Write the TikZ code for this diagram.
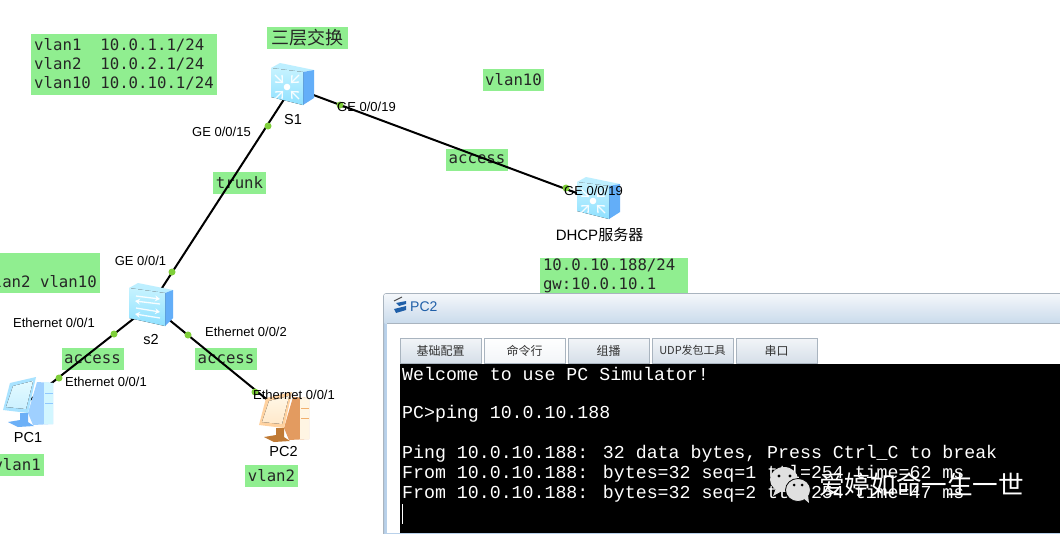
\documentclass[tikz,border=0pt]{standalone}
\usepackage{fontspec}
\usetikzlibrary{arrows.meta}
\setmainfont{Liberation Sans}
\newfontfamily\gmono{DejaVu Sans Mono}
\newfontfamily\cjk{Noto Sans CJK SC}
\newfontfamily\termfont{Liberation Mono}
\definecolor{lblgreen}{HTML}{90EE90}
\definecolor{portgreen}{HTML}{7FCF3A}
\definecolor{tabedge}{HTML}{A9B4BF}
\definecolor{titleblue}{HTML}{1F5FA8}
\definecolor{swfronta}{HTML}{C6F3FF}
\definecolor{swfrontb}{HTML}{8FE0FF}
\definecolor{swtop}{HTML}{BDEFFF}
\definecolor{swside}{HTML}{63AEF8}
\definecolor{pa}{HTML}{9FD0FF}
\definecolor{pb}{HTML}{D2F6FF}
\definecolor{pc}{HTML}{A9E3FF}
\definecolor{pd}{HTML}{E3FAFF}
\definecolor{pe}{HTML}{6CB0F7}
\definecolor{pf}{HTML}{8FC8FF}
\definecolor{qa}{HTML}{E39B60}
\definecolor{qb}{HTML}{FFF5E3}
\definecolor{qc}{HTML}{FFD2A0}
\definecolor{qd}{HTML}{FFF7E6}
\definecolor{qe}{HTML}{C07A35}
\definecolor{qf}{HTML}{F0B070}
\definecolor{wintop}{HTML}{F3F6FA}
\definecolor{winbot}{HTML}{CADBEC}
\definecolor{winband}{HTML}{B9D1EA}
\definecolor{tabtop}{HTML}{F2F5F8}
\definecolor{tabbot}{HTML}{D6DFE9}
\tikzset{
  greenbox/.style={fill=lblgreen,inner sep=0pt,font=\gmono\fontsize{15.7}{19}\selectfont,text=black!85},
  plainlbl/.style={inner sep=0pt,font=\fontsize{13}{15}\selectfont},
  devlbl/.style={inner sep=0pt,font=\fontsize{14.5}{16}\selectfont},
  link/.style={line width=2pt,black},
  portdot/.style={circle,fill=portgreen,inner sep=0pt,minimum size=7pt},
  devnode/.style={inner sep=0pt,minimum size=30pt},
  tabbox/.style={draw=tabedge,line width=.8pt,top color=tabtop,bottom color=tabbot,inner sep=0pt,
    minimum width=81pt,minimum height=25pt,font=\cjk\fontsize{12}{14}\selectfont,text=black!80},
  termline/.style={inner sep=0pt,anchor=west,text=white,font=\termfont\fontsize{18.25}{20}\selectfont},
  whitearrow/.style={white,line width=1.3pt,opacity=.9},
}
\newcommand{\lthreeicon}[2]{%
  \begin{scope}[shift={(#1,#2)}]
    \fill[swtop] (-21,-19) -- (-12,-24) -- (22,-17) -- (11,-15) -- cycle;
    \fill[swside] (11,-15) -- (22,-17) -- (22,11) -- (11,18) -- cycle;
    \fill[top color=swfronta,bottom color=swfrontb] (-21,-19) -- (11,-15) -- (11,18) -- (-21,10) -- cycle;
    \fill[white] (-5,0) circle (3.3);
    \foreach \a in {45,135,225,315}{
      \begin{scope}[shift={(-5,0)},rotate=\a]
        \draw[whitearrow] (17,0) -- (7,0);
        \draw[whitearrow] (12,-5) -- (6.5,0) -- (12,5);
      \end{scope}
    }
  \end{scope}%
}
\newcommand{\ltwoicon}[2]{%
  \begin{scope}[shift={(#1,#2)}]
    \fill[swtop] (-22,-17) -- (-13,-22) -- (22,-15) -- (14,-12) -- cycle;
    \fill[swside] (14,-12) -- (22,-15) -- (22,13) -- (14,21) -- cycle;
    \fill[top color=swfronta,bottom color=swfrontb] (-22,-17) -- (14,-12) -- (14,21) -- (-22,13) -- cycle;
    \draw[whitearrow,-{Stealth[length=5pt,width=6pt]}] (-15,-9) -- (9,-6);
    \draw[whitearrow,-{Stealth[length=5pt,width=6pt]}] (9,-1) -- (-16,-4);
    \draw[whitearrow,-{Stealth[length=5pt,width=6pt]}] (-15,3) -- (9,7);
    \draw[whitearrow,-{Stealth[length=5pt,width=6pt]}] (9,13) -- (-16,9);
  \end{scope}%
}
\newcommand{\pcicon}[8]{%
  \begin{scope}[shift={(#1,#2)}]
    \fill[#3] (7,-18) -- (23,-17) -- (23,24) -- (3,25) -- (-2,13) -- cycle;
    \fill[#4] (14,-18) -- (23,-17) -- (23,24) -- (14,24) -- cycle;
    \draw[#8,line width=1pt] (15,3) -- (23,3) (15,-7) -- (23,-7);
    \fill[#7] (-10,13) -- (-2,13) -- (-2,22) -- (4,26) -- (-12,27) -- (-22,22) -- (-10,20) -- cycle;
    \fill[#5] (-20,-17) -- (6,-23) -- (-2,13) -- (-27,10) -- cycle;
    \fill[top color=#6,bottom color=#5!40!#6] (-17,-14) -- (3,-19) -- (-4,9) -- (-24,7) -- cycle;
  \end{scope}%
}
\begin{document}
\begin{tikzpicture}[x=1pt,y=-1pt]
\useasboundingbox (0,0) rectangle (1060,533);
\fill[white] (0,0) rectangle (1060,533);
% green annotation boxes
\node[greenbox,minimum width=186pt,minimum height=61pt,align=left] (vlantable) at (124,64.5) {vlan1~~10.0.1.1/24\\vlan2~~10.0.2.1/24\\vlan10~10.0.10.1/24};
\node[greenbox,minimum width=81pt,minimum height=22pt,font=\cjk\fontsize{18}{20}\selectfont] (l3lbl) at (307.5,38) {三层交换};
\node[greenbox,minimum width=61pt,minimum height=22pt] (v10lbl) at (513.5,79.5) {vlan10};
\node[greenbox,minimum width=53pt,minimum height=22pt] (trunklbl) at (239.5,183) {trunk};
\node[greenbox,minimum width=62pt,minimum height=22pt] (accesstop) at (477,159.5) {access};
\node[greenbox,minimum width=148pt,minimum height=36pt,align=left,text width=142pt] (iplbl) at (614,276) {10.0.10.188/24\\gw:10.0.10.1};
\fill[lblgreen] (0,252.5) rectangle (100,293);
\node[inner sep=0pt,anchor=base east,font=\gmono\fontsize{15.7}{19}\selectfont,text=black!85] (trunkvlans) at (97,287) {lan2 vlan10};
\node[greenbox,minimum width=62pt,minimum height=22pt] (accessl) at (92.5,359) {access};
\node[greenbox,minimum width=62pt,minimum height=22pt] (accessr) at (226,359) {access};
\fill[lblgreen] (0,454) rectangle (44,476);
\node[inner sep=0pt,anchor=base east,font=\gmono\fontsize{15.7}{19}\selectfont,text=black!85] (pc1vlan) at (41,470) {vlan1};
\node[greenbox,minimum width=53pt,minimum height=22pt] (pc2vlan) at (271.5,476) {vlan2};
% device anchors
\node[devnode] (S1) at (292,87) {};
\node[devnode] (s2) at (151,305) {};
\node[devnode] (dhcp) at (598,201) {};
\node[devnode] (PC1) at (30,400) {};
\node[devnode] (PC2) at (286,415) {};
% links
\draw[link] (S1.center) -- (s2.center);
\draw[link] (S1.center) -- (dhcp.center);
\draw[link] (s2.center) -- (PC1.center);
\draw[link] (s2.center) -- (PC2.center);
% port dots
\node[portdot] (d1) at (268,126) {};
\node[portdot] (d2) at (340,105) {};
\node[portdot] (d3) at (172,272) {};
\node[portdot] (d4) at (114,334) {};
\node[portdot] (d5) at (188,335) {};
\node[portdot] (d6) at (59,378) {};
\node[portdot] (d7) at (255,392) {};
\node[portdot] (d8) at (566,188) {};
% icons
\lthreeicon{292}{87}
\lthreeicon{598}{201}
\ltwoicon{151}{305}
\pcicon{30}{400}{pa}{pb}{pc}{pd}{pe}{pf}
\pcicon{286}{415}{qa}{qb}{qc}{qd}{qe}{qf}
% device labels
\node[devlbl] (S1lbl) at (293,120) {S1};
\node[devlbl] (s2lbl) at (151,339.5) {s2};
\node[devlbl] (PC1lbl) at (28,438) {PC1};
\node[devlbl] (PC2lbl) at (283.5,451.5) {PC2};
\node[inner sep=0pt,font=\fontsize{15}{17}\selectfont] (dhcplbl) at (599.5,235) {DHCP{\cjk 服务器}};
% port labels
\node[plainlbl] (p1) at (221.5,132) {GE 0/0/15};
\node[plainlbl] (p2) at (366.5,107) {GE 0/0/19};
\node[plainlbl] (p3) at (140.5,261) {GE 0/0/1};
\node[plainlbl] (p4) at (54,323) {Ethernet 0/0/1};
\node[plainlbl] (p5) at (106,382) {Ethernet 0/0/1};
\node[plainlbl] (p6) at (246,332) {Ethernet 0/0/2};
\node[plainlbl] (p7) at (294,395) {Ethernet 0/0/1};
\node[plainlbl] (p8) at (593.5,191) {GE 0/0/19};
% PC2 window
\fill[fill=winband,draw=tabedge,line width=1pt,rounded corners=3pt] (383.5,293.5) -- (1065,293.5) -- (1065,540) -- (383.5,540) -- cycle;
\shade[top color=wintop,bottom color=winbot] (384.5,294.5) rectangle (1060,323);
\fill[white] (387,323) rectangle (1060,533);
\draw[tabedge,line width=.8pt] (387,323.5) -- (1060,323.5);
\node[tabbox] (tab1) at (440.5,350.5) {基础配置};
\node[tabbox,top color=white,bottom color=tabtop] (tab2) at (524.5,350.5) {命令行};
\node[tabbox] (tab3) at (608.5,350.5) {组播};
\node[tabbox] (tab4) at (692.5,350.5) {\fontsize{11}{13}\selectfont UDP发包工具};
\node[tabbox] (tab5) at (776.5,350.5) {串口};
\fill[black] (400,364) rectangle (1060,533);
% title icon and title
\fill[titleblue] (396,303) -- (406,301) -- (406,304) -- (399,306) -- cycle;
\fill[titleblue] (394,309) -- (406,306) -- (406,310) -- (396,313) -- cycle;
\draw[black!70,line width=1pt] (394,301) -- (402,297);
\node[inner sep=0pt,anchor=west,text=titleblue,font=\fontsize{14}{16}\selectfont] (wintitle) at (410,306.5) {PC2};
% terminal
\node[termline] (t1) at (402,374) {Welcome to use PC Simulator!};
\node[termline] (t2) at (402,414) {PC>ping 10.0.10.188};
\node[termline] (t3) at (402,454) {Ping 10.0.10.188: 32 data bytes, Press Ctrl\_C to break};
\node[termline] (t4) at (402,474) {From 10.0.10.188: bytes=32 seq=1 ttl=254 time=62 ms};
\node[termline] (t5) at (402,494) {From 10.0.10.188: bytes=32 seq=2 ttl=254 time=47 ms};
\draw[white,line width=1pt] (402.5,504) -- (402.5,524);
% watermark
\fill[black!12] (784,479.5) ellipse (14 and 12.5);
\fill[black!12] (776,488) -- (773,496) -- (782,491) -- cycle;
\fill[black!12,draw=black,line width=.8pt] (798,490) ellipse (12.5 and 11.5);
\fill[black!12] (803,498) -- (809,503) -- (808,495) -- cycle;
\fill[black] (779,476) circle (1.6) (790,476) circle (1.6) (794,485) circle (1.5) (802,485) circle (1.5);
\node[inner sep=0pt,anchor=west,text=white,font=\cjk\fontsize{25.6}{28}\selectfont] (wm) at (819,485) {爱婷如命一生一世};
\end{tikzpicture}
\end{document}
